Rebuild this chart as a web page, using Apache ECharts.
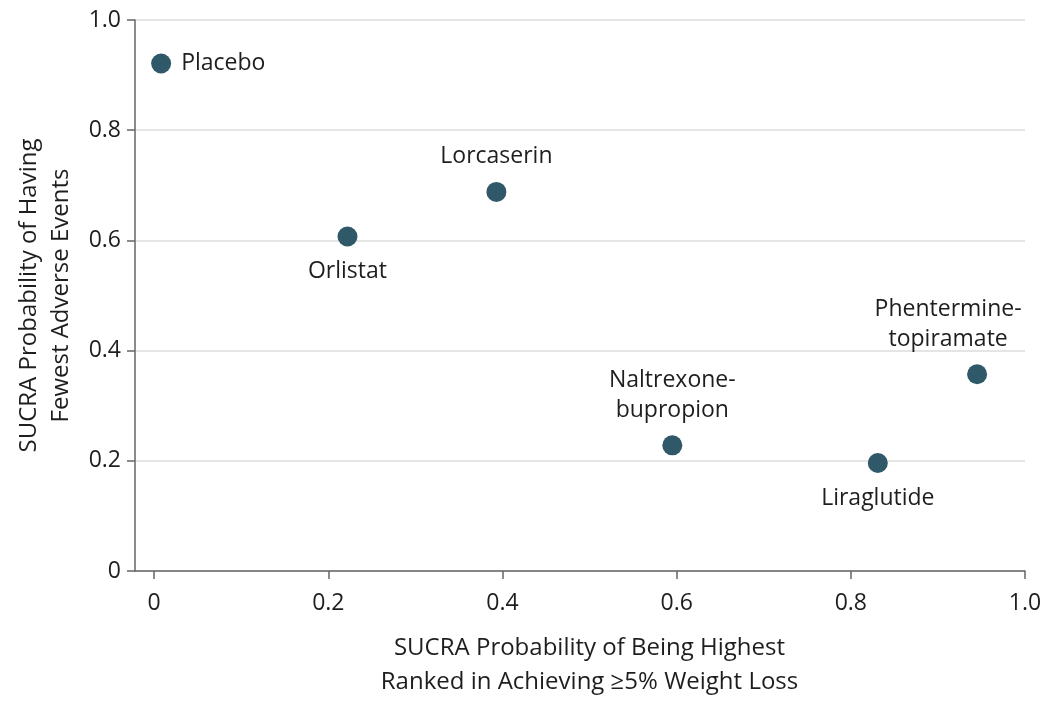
<!DOCTYPE html>
<html>
<head>
<meta charset="utf-8">
<script src="https://cdn.jsdelivr.net/npm/echarts@6/dist/echarts.min.js"></script>
<style>
  html, body { margin: 0; padding: 0; background: #fff; }
  #chart { width: 1051px; height: 704px; }
</style>
</head>
<body>
<div id="chart"></div>
<script>
// drugs and their SUCRA values
var drugNames = ["Placebo", "Orlistat", "Lorcaserin", "Naltrexone-\nbupropion", "Liraglutide", "Phentermine-\ntopiramate"];
var weightLossSucra = [0.008, 0.222, 0.393, 0.595, 0.831, 0.945];
var adverseSucra = [0.921, 0.607, 0.688, 0.228, 0.196, 0.357];
var tickValues = [0, 0.2, 0.4, 0.6, 0.8, 1.0];

// label placement per point
var labelPos = ["right", "bottom", "top", "top", "bottom", "top"];
var labelOffset = [[0, 0], [0, 0], [0, 0], [0, 0], [0, 0], [-29, 0]];

var font = "Open Sans";
var textColor = "#1e1e1e";
var dotColor = "#2f5868";

function fmt(v) {
  return v === 0 ? "0" : v.toFixed(1);
}

var points = drugNames.map(function (name, i) {
  return {
    name: name,
    value: [weightLossSucra[i], adverseSucra[i]],
    label: {
      position: labelPos[i],
      offset: labelOffset[i],
      distance: 10,
      align: labelPos[i] === "right" ? "left" : "center"
    }
  };
});

var myChart = echarts.init(document.getElementById("chart"));
var option = {
  animation: false,
  textStyle: { fontFamily: font },
  grid: { left: 135, right: 26, top: 20, bottom: 126 },
  xAxis: {
    type: "value",
    min: -0.022,
    max: 1,
    name: "SUCRA Probability of Being Highest\nRanked in Achieving \u22655% Weight Loss",
    nameLocation: "middle",
    nameGap: 60,
    nameTextStyle: { fontSize: 24, color: textColor, lineHeight: 34, fontFamily: font, padding: [0, 0, 0, 19] },
    axisLine: { onZero: false, lineStyle: { color: "#666", width: 1.5 } },
    axisTick: { show: true, length: 8, customValues: tickValues, lineStyle: { color: "#666", width: 1.5 } },
    axisLabel: { customValues: tickValues, formatter: fmt, fontSize: 23, color: textColor, margin: 21, fontFamily: font },
    splitLine: { show: false }
  },
  yAxis: {
    type: "value",
    min: 0,
    max: 1,
    interval: 0.2,
    name: "SUCRA Probability of Having\nFewest Adverse Events",
    nameLocation: "middle",
    nameGap: 58,
    nameTextStyle: { fontSize: 24, color: textColor, lineHeight: 32, fontFamily: font },
    axisLine: { show: true, onZero: false, lineStyle: { color: "#666", width: 1.5 } },
    axisTick: { show: true, length: 8, lineStyle: { color: "#666", width: 1.5 } },
    axisLabel: { formatter: fmt, fontSize: 23, color: textColor, margin: 14, fontFamily: font },
    splitLine: { show: true, lineStyle: { color: "#dcdcdc", width: 1.5 } }
  },
  series: [
    {
      type: "scatter",
      symbolSize: 20,
      itemStyle: { color: dotColor, opacity: 1 },
      label: {
        show: true,
        formatter: "{b}",
        fontSize: 23,
        lineHeight: 30,
        color: textColor,
        fontFamily: font
      },
      data: points
    }
  ]
};
myChart.setOption(option);
</script>
</body>
</html>
